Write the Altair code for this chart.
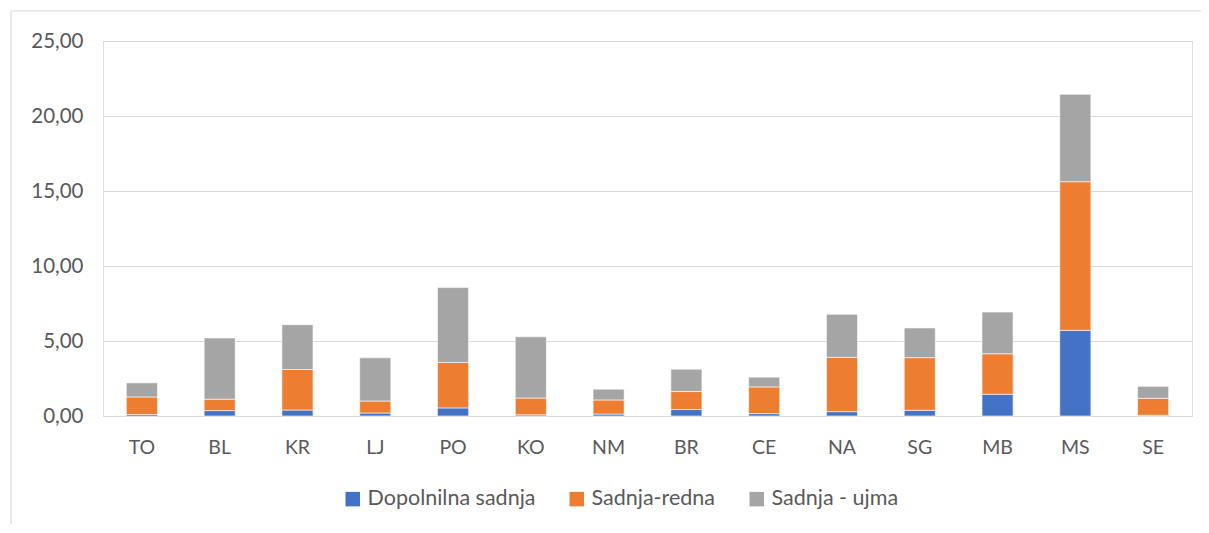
import altair as alt
import pandas as pd

regions = ["TO", "BL", "KR", "LJ", "PO", "KO", "NM", "BR", "CE", "NA", "SG", "MB", "MS", "SE"]
dopolnilna = [0.10, 0.36, 0.40, 0.20, 0.54, 0.08, 0.13, 0.43, 0.16, 0.29, 0.38, 1.45, 5.71, 0.05]
redna = [1.17, 0.76, 2.70, 0.80, 3.03, 1.12, 0.94, 1.20, 1.78, 3.62, 3.51, 2.70, 9.91, 1.13]
ujma = [0.94, 4.08, 2.99, 2.88, 4.99, 4.08, 0.72, 1.49, 0.65, 2.87, 1.98, 2.78, 5.83, 0.80]
series = ["Dopolnilna sadnja", "Sadnja-redna", "Sadnja - ujma"]
colors = ["#4472C4", "#ED7D31", "#A5A5A5"]

rows = []
for i, r in enumerate(regions):
    for k, (s, vals) in enumerate(zip(series, [dopolnilna, redna, ujma])):
        rows.append({"region": r, "series": s, "value": vals[i], "order": k})
df = pd.DataFrame(rows)

W, H = 1089, 375
FONT = "Lato"

frame = alt.Chart(pd.DataFrame({"a": [0]})).mark_rect(
    fill=None, stroke="#D9D9D9", strokeWidth=1.2
).encode(
    x=alt.value(-92), x2=alt.value(W + 60),
    y=alt.value(-30), y2=alt.value(H + 160),
)

bars = alt.Chart(df).mark_bar(stroke="white", strokeWidth=0.6).encode(
    x=alt.X("region:N", sort=regions, title=None,
            scale=alt.Scale(paddingInner=0.6, paddingOuter=0.3),
            axis=alt.Axis(labelAngle=0, domain=True, domainColor="#D9D9D9", domainWidth=1.2,
                          ticks=False, labelPadding=22, labelFontSize=19.5,
                          labelColor="#595959", labelFont=FONT)),
    y=alt.Y("value:Q", stack="zero", title=None,
            scale=alt.Scale(domain=[0, 25], nice=False),
            axis=alt.Axis(values=[0, 5, 10, 15, 20, 25], domain=False, ticks=False,
                          gridColor="#D9D9D9", gridWidth=1.2, labelPadding=20,
                          labelFontSize=20.5, labelColor="#595959", labelFont=FONT,
                          labelExpr="replace(format(datum.value, '.2f'), '.', ',')")),
    color=alt.Color("series:N", sort=series,
                    scale=alt.Scale(domain=series, range=colors),
                    legend=alt.Legend(title=None, orient="none", direction="horizontal",
                                      legendX=239, legendY=447, symbolType="square",
                                      symbolSize=210, symbolStrokeWidth=0,
                                      labelFontSize=21.5, labelColor="#595959", labelFont=FONT,
                                      labelLimit=400, columnPadding=30, labelOffset=4)),
    order=alt.Order("order:Q"),
)

chart = alt.layer(frame, bars).properties(
    width=W, height=H,
    padding={"left": 95, "top": 33, "right": 9, "bottom": 108},
    autosize=alt.AutoSizeParams(type="none"),
).configure_view(stroke=None).configure(background="white")

chart.save("out.html", embed_options={"renderer": "svg", "actions": False})
